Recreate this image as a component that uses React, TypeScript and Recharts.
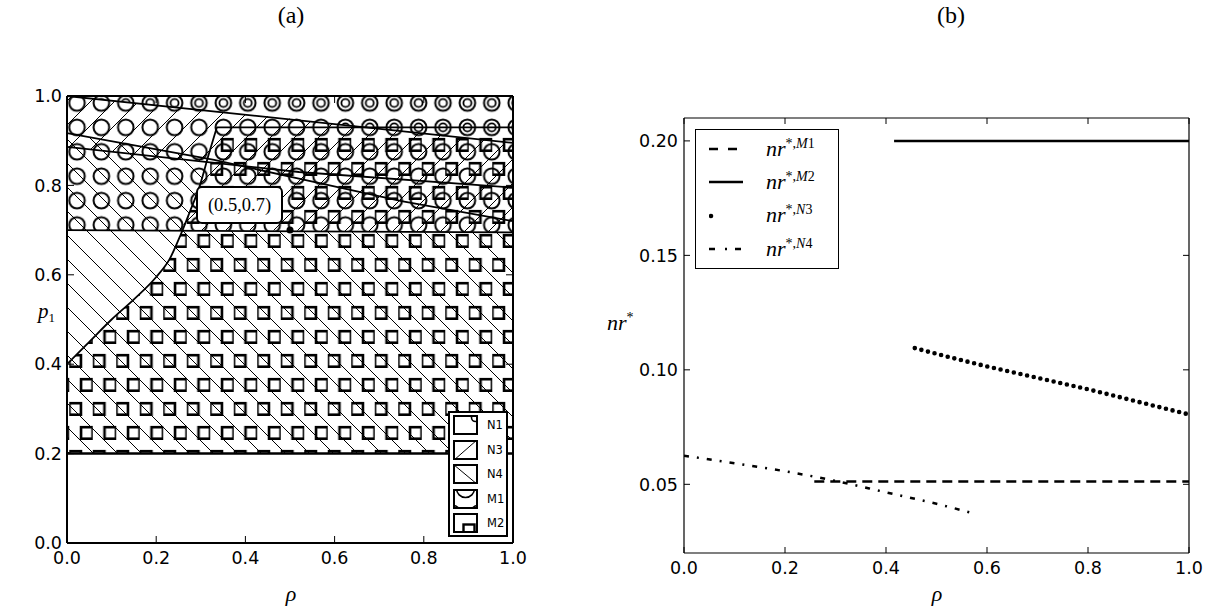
import React from "react";
import { Area, ComposedChart, Legend, Line, ReferenceDot, XAxis, YAxis } from "recharts";

// ---- shared ticks ----
const rhoTicks = [0, 0.2, 0.4, 0.6, 0.8, 1];
const p1Ticks = [0, 0.2, 0.4, 0.6, 0.8, 1];
const nrTicks = [0.05, 0.1, 0.15, 0.2];

// ---- panel (a): boundary curves (rho, p1) ----
const floorLine = [{ r: 0, p: 0.2 }, { r: 1, p: 0.2 }];
const midLine = [{ r: 0, p: 0.7 }, { r: 1, p: 0.695 }];
const curveC = [
  { r: 0, p: 0.4 }, { r: 0.05, p: 0.45 }, { r: 0.1, p: 0.5 }, { r: 0.15, p: 0.545 },
  { r: 0.2, p: 0.595 }, { r: 0.23, p: 0.635 }, { r: 0.255, p: 0.69 }, { r: 0.275, p: 0.74 },
  { r: 0.298, p: 0.8 }, { r: 0.318, p: 0.87 }, { r: 0.336, p: 0.93 },
];
const capLine = [{ r: 0.336, p: 0.93 }, { r: 1, p: 0.93 }];
const lineE = [{ r: 0, p: 1.0 }, { r: 1, p: 0.895 }];
const lineF = [{ r: 0, p: 0.917 }, { r: 0.33, p: 0.857 }, { r: 0.52, p: 0.815 }, { r: 0.75, p: 0.765 }, { r: 1, p: 0.72 }];
const lineG = [{ r: 0, p: 0.886 }, { r: 0.52, p: 0.83 }, { r: 1, p: 0.795 }];

// ---- panel (a): hatched regions, [lo, hi] in p1 ----
const n4Low = [{ r: 0, lo: 0.2, hi: 0.7 }, { r: 1, lo: 0.2, hi: 0.695 }];
const n4High = [
  { r: 0, lo: 0.7, hi: 0.917 }, { r: 0.255, lo: 0.7, hi: 0.87 }, { r: 0.275, lo: 0.74, hi: 0.866 },
  { r: 0.298, lo: 0.8, hi: 0.861 }, { r: 0.315, lo: 0.86, hi: 0.86 },
];
const n3Left = [{ r: 0, lo: 0.886, hi: 1.0 }, { r: 0.345, lo: 0.849, hi: 0.966 }];
const n3Right = [
  { r: 0.255, lo: 0.7, hi: 0.7 }, { r: 0.275, lo: 0.7, hi: 0.74 }, { r: 0.298, lo: 0.7, hi: 0.8 },
  { r: 0.318, lo: 0.7, hi: 0.87 }, { r: 0.336, lo: 0.7, hi: 0.93 }, { r: 0.345, lo: 0.7, hi: 0.966 },
  { r: 1, lo: 0.695, hi: 0.895 },
];
const m1Region = [{ r: 0, lo: 0.7, hi: 1 }, { r: 1, lo: 0.695, hi: 1 }];
const n1Region = [{ r: 0, lo: 1, hi: 1 }, { r: 1, lo: 0.895, hi: 1 }];
const m2Region = [
  { r: 0, lo: 0.2, hi: 0.4 }, { r: 0.05, lo: 0.2, hi: 0.45 }, { r: 0.1, lo: 0.2, hi: 0.5 },
  { r: 0.15, lo: 0.2, hi: 0.545 }, { r: 0.2, lo: 0.2, hi: 0.595 }, { r: 0.23, lo: 0.2, hi: 0.635 },
  { r: 0.255, lo: 0.2, hi: 0.69 }, { r: 0.275, lo: 0.2, hi: 0.74 }, { r: 0.298, lo: 0.2, hi: 0.8 },
  { r: 0.318, lo: 0.2, hi: 0.87 }, { r: 0.336, lo: 0.2, hi: 0.93 }, { r: 1, lo: 0.2, hi: 0.93 },
];
const markedPoint = { r: 0.5, p: 0.7, label: "(0.5,0.7)" };
const regionNames = ["N1", "N3", "N4", "M1", "M2"];

// ---- panel (b): nr* curves ----
const nrM1 = [{ r: 0.258, v: 0.0512 }, { r: 1, v: 0.0512 }];
const nrM2 = [{ r: 0.416, v: 0.2 }, { r: 1, v: 0.2 }];
const nrN3 = [
  { r: 0.457, v: 0.1095 }, { r: 0.5, v: 0.107 }, { r: 0.6, v: 0.1015 }, { r: 0.7, v: 0.0965 },
  { r: 0.8, v: 0.0915 }, { r: 0.9, v: 0.086 }, { r: 1, v: 0.0805 },
];
const nrN4 = [
  { r: 0, v: 0.0625 }, { r: 0.1, v: 0.0592 }, { r: 0.2, v: 0.0557 }, { r: 0.3, v: 0.0515 },
  { r: 0.4, v: 0.0465 }, { r: 0.5, v: 0.0415 }, { r: 0.58, v: 0.0369 },
];
const nrNames = ["M1", "M2", "N3", "N4"];

type Band = { r: number; lo: number; hi: number };
const band = (d: Band) => [d.lo, d.hi];
const fmt1 = (v: number) => v.toFixed(1);
const fmt2 = (v: number) => v.toFixed(2);
const blank = () => "";

const tickFont = { fill: "#000", fontSize: 17.5, fontFamily: "DejaVu Sans, sans-serif" };
const serif = "'Liberation Serif', 'DejaVu Serif', serif";

function Hatches() {
  return (
    <defs>
      <pattern id="hatchN3" patternUnits="userSpaceOnUse" width={24} height={24}>
        <path d="M0,24 L24,0 M-3,3 L3,-3 M21,27 L27,21" stroke="#000" strokeWidth={1} />
      </pattern>
      <pattern id="hatchN4" patternUnits="userSpaceOnUse" width={24} height={24}>
        <path d="M0,0 L24,24 M-3,21 L3,27 M21,-3 L27,3" stroke="#000" strokeWidth={1} />
      </pattern>
      <pattern id="hatchM1" patternUnits="userSpaceOnUse" x={-8.4} y={-6.8} width={24.4} height={24.4}>
        <circle cx={12.2} cy={12.2} r={7.8} fill="none" stroke="#000" strokeWidth={2} />
      </pattern>
      <pattern id="hatchN1" patternUnits="userSpaceOnUse" x={-8.4} y={-6.8} width={24.4} height={24.4}>
        <circle cx={12.2} cy={12.2} r={4} fill="none" stroke="#000" strokeWidth={1.8} />
      </pattern>
      <pattern id="hatchM2" patternUnits="userSpaceOnUse" x={-1.25} y={13} width={23.5} height={48}>
        <rect x={0.2} y={6.2} width={11.5} height={11.5} fill="none" stroke="#000" strokeWidth={2.6} />
        <rect x={11.8} y={30.2} width={11.5} height={11.5} fill="none" stroke="#000" strokeWidth={2.6} />
      </pattern>
    </defs>
  );
}

function MarkedPoint(props: any) {
  const { cx, cy } = props;
  return (
    <g>
      <rect x={cx - 93} y={cy - 43} width={85} height={36} rx={5} fill="#fff" stroke="#000" strokeWidth={2} />
      <text x={cx - 50.5} y={cy - 19} textAnchor="middle" fontFamily={serif} fontSize={18.5} fill="#000">
        {markedPoint.label}
      </text>
      <circle cx={cx} cy={cy} r={3.5} fill="#000" />
    </g>
  );
}

function RegionGlyph({ name }: { name: string }) {
  const s = { fill: "none", stroke: "#000", strokeWidth: 1.6 };
  if (name === "N1") return <circle cx={22} cy={2} r={4} {...s} />;
  if (name === "N3") return <path d="M0,20 L24,-1" {...s} strokeWidth={1} />;
  if (name === "N4") return <path d="M0,0 L24,20" {...s} strokeWidth={1} />;
  if (name === "M1")
    return (
      <g>
        <circle cx={12} cy={-1} r={9} {...s} />
        <circle cx={0} cy={22} r={6} {...s} />
        <circle cx={24} cy={22} r={6} {...s} />
      </g>
    );
  return <rect x={10} y={11} width={11} height={10} {...s} strokeWidth={2.4} />;
}

function LegendA() {
  return (
    <div style={{ width: 60, height: 126, border: "2px solid #000", background: "#fff", boxSizing: "border-box", position: "relative" }}>
      {regionNames.map((name, i) => (
        <div key={name} style={{ position: "absolute", left: 3, top: 2 + i * 24.5, height: 20, display: "flex", alignItems: "center" }}>
          <svg width={25} height={20} style={{ display: "block" }}>
            <svg x={0.5} y={0.5} width={24} height={19}>
              <RegionGlyph name={name} />
            </svg>
            <rect x={1} y={1} width={23} height={18} fill="none" stroke="#000" strokeWidth={2} />
          </svg>
          <span style={{ marginLeft: 9, fontSize: 11.5, fontFamily: "DejaVu Sans, sans-serif", color: "#000" }}>{name}</span>
        </div>
      ))}
    </div>
  );
}

function NrSample({ name }: { name: string }) {
  const base = { stroke: "#000", fill: "none" };
  if (name === "M1") return <line x1={0} x2={34} y1={6} y2={6} {...base} strokeWidth={2.5} strokeDasharray="9 10" />;
  if (name === "M2") return <line x1={0} x2={34} y1={6} y2={6} {...base} strokeWidth={2.5} />;
  if (name === "N3")
    return <line x1={2} x2={33} y1={6} y2={6} {...base} strokeWidth={4.6} strokeLinecap="round" strokeDasharray="0 31" />;
  return <line x1={0} x2={34} y1={6} y2={6} {...base} strokeWidth={2.5} strokeDasharray="6 10 2 8" />;
}

function LegendB() {
  return (
    <div style={{ width: 144, height: 140, border: "1.2px solid #000", background: "#fff", boxSizing: "border-box", position: "relative" }}>
      {nrNames.map((name, i) => (
        <div key={name} style={{ position: "absolute", left: 13, top: 6 + i * 33.3, height: 26, display: "flex", alignItems: "center" }}>
          <svg width={36} height={12} style={{ display: "block" }}>
            <NrSample name={name} />
          </svg>
          <span style={{ marginLeft: 21, fontFamily: serif, fontSize: 22, color: "#000", whiteSpace: "nowrap" }}>
            <i>nr</i>
            <sup style={{ fontSize: 14 }}>
              *,<i>{name[0]}</i>
              {name.slice(1)}
            </sup>
          </span>
        </div>
      ))}
    </div>
  );
}

const frameA = { stroke: "#000", strokeWidth: 2 };
const frameB = { stroke: "#000", strokeWidth: 1.2 };
const tickLn = { stroke: "#000", strokeWidth: 1 };

function PanelA() {
  return (
    <ComposedChart width={560} height={611} margin={{ top: 95, right: 46, bottom: 38, left: 17 }}>
      <Hatches />
      <XAxis type="number" dataKey="r" domain={[0, 1]} ticks={rhoTicks} tickFormatter={fmt1} height={30}
        tickSize={-7} tickMargin={16} axisLine={frameA} tickLine={tickLn} tick={tickFont} allowDataOverflow />
      <XAxis xAxisId="top" orientation="top" type="number" dataKey="r" domain={[0, 1]} ticks={rhoTicks}
        tickFormatter={blank} height={1} tickSize={-7} axisLine={frameA} tickLine={tickLn} allowDataOverflow />
      <YAxis type="number" domain={[0, 1]} ticks={p1Ticks} tickFormatter={fmt1} width={50}
        tickSize={-7} tickMargin={12} axisLine={frameA} tickLine={tickLn} tick={tickFont} allowDataOverflow />
      <YAxis yAxisId="right" orientation="right" type="number" domain={[0, 1]} ticks={p1Ticks}
        tickFormatter={blank} width={1} tickSize={-7} axisLine={frameA} tickLine={tickLn} allowDataOverflow />

      <Area data={n4Low} dataKey={band} type="linear" stroke="none" fill="url(#hatchN4)" fillOpacity={1} dot={false} activeDot={false} isAnimationActive={false} />
      <Area data={n4High} dataKey={band} type="linear" stroke="none" fill="url(#hatchN4)" fillOpacity={1} dot={false} activeDot={false} isAnimationActive={false} />
      <Area data={n3Left} dataKey={band} type="linear" stroke="none" fill="url(#hatchN3)" fillOpacity={1} dot={false} activeDot={false} isAnimationActive={false} />
      <Area data={n3Right} dataKey={band} type="linear" stroke="none" fill="url(#hatchN3)" fillOpacity={1} dot={false} activeDot={false} isAnimationActive={false} />
      <Area data={m1Region} dataKey={band} type="linear" stroke="none" fill="url(#hatchM1)" fillOpacity={1} dot={false} activeDot={false} isAnimationActive={false} />
      <Area data={n1Region} dataKey={band} type="linear" stroke="none" fill="url(#hatchN1)" fillOpacity={1} dot={false} activeDot={false} isAnimationActive={false} />
      <Area data={m2Region} dataKey={band} type="linear" stroke="none" fill="url(#hatchM2)" fillOpacity={1} dot={false} activeDot={false} isAnimationActive={false} />

      <Line data={floorLine} dataKey="p" type="linear" stroke="#000" strokeWidth={2.5} dot={false} activeDot={false} isAnimationActive={false} />
      <Line data={midLine} dataKey="p" type="linear" stroke="#000" strokeWidth={1.8} dot={false} activeDot={false} isAnimationActive={false} />
      <Line data={curveC} dataKey="p" type="monotone" stroke="#000" strokeWidth={1.8} dot={false} activeDot={false} isAnimationActive={false} />
      <Line data={capLine} dataKey="p" type="linear" stroke="#000" strokeWidth={1.8} dot={false} activeDot={false} isAnimationActive={false} />
      <Line data={lineE} dataKey="p" type="linear" stroke="#000" strokeWidth={1.8} dot={false} activeDot={false} isAnimationActive={false} />
      <Line data={lineF} dataKey="p" type="linear" stroke="#000" strokeWidth={1.8} dot={false} activeDot={false} isAnimationActive={false} />
      <Line data={lineG} dataKey="p" type="linear" stroke="#000" strokeWidth={1.8} dot={false} activeDot={false} isAnimationActive={false} />

      <ReferenceDot x={markedPoint.r} y={markedPoint.p} r={3.5} shape={MarkedPoint} />
      <Legend layout="vertical" align="center" verticalAlign="middle" content={() => <LegendA />}
        wrapperStyle={{ left: 448, top: 411, width: 60, height: 126 }} />
    </ComposedChart>
  );
}

function PanelB() {
  return (
    <ComposedChart width={640} height={611} margin={{ top: 117, right: 30, bottom: 28, left: 44 }}>
      <XAxis type="number" dataKey="r" domain={[0, 1]} ticks={rhoTicks} tickFormatter={fmt1} height={30}
        tickSize={-6} tickMargin={15} axisLine={frameB} tickLine={tickLn} tick={tickFont} allowDataOverflow />
      <XAxis xAxisId="top" orientation="top" type="number" dataKey="r" domain={[0, 1]} ticks={rhoTicks}
        tickFormatter={blank} height={1} tickSize={-6} axisLine={frameB} tickLine={tickLn} allowDataOverflow />
      <YAxis type="number" domain={[0.02, 0.21]} ticks={nrTicks} tickFormatter={fmt2} width={60}
        tickSize={-6} tickMargin={12} axisLine={frameB} tickLine={tickLn} tick={tickFont} allowDataOverflow />
      <YAxis yAxisId="right" orientation="right" type="number" domain={[0.02, 0.21]} ticks={nrTicks}
        tickFormatter={blank} width={1} tickSize={-6} axisLine={frameB} tickLine={tickLn} allowDataOverflow />

      <Line data={nrM2} dataKey="v" name="M2" type="linear" stroke="#000" strokeWidth={2.5} dot={false} activeDot={false} isAnimationActive={false} />
      <Line data={nrM1} dataKey="v" name="M1" type="linear" stroke="#000" strokeWidth={2.5} strokeDasharray="10 6" dot={false} activeDot={false} isAnimationActive={false} />
      <Line data={nrN3} dataKey="v" name="N3" type="monotone" stroke="#000" strokeWidth={4.6} strokeLinecap="round" strokeDasharray="0 6.8" dot={false} activeDot={false} isAnimationActive={false} />
      <Line data={nrN4} dataKey="v" name="N4" type="monotone" stroke="#000" strokeWidth={2.5} strokeDasharray="5 8 2 8" dot={false} activeDot={false} isAnimationActive={false} />

      <Legend layout="vertical" align="center" verticalAlign="middle" content={() => <LegendB />}
        wrapperStyle={{ left: 115, top: 129, width: 144, height: 140 }} />
    </ComposedChart>
  );
}

const abs = (left: number, top: number, extra: React.CSSProperties = {}): React.CSSProperties => ({
  position: "absolute", left, top, fontFamily: serif, color: "#000", lineHeight: 1, whiteSpace: "nowrap", ...extra,
});

export default function App() {
  return (
    <div style={{ position: "absolute", left: 0, top: 0, width: 1220, height: 611, background: "#fff", overflow: "hidden" }}>
      <div style={{ position: "absolute", left: 0, top: 0 }}>
        <PanelA />
      </div>
      <div style={{ position: "absolute", left: 580, top: 0 }}>
        <PanelB />
      </div>
      <div style={abs(291, 3, { fontSize: 24, transform: "translateX(-50%)" })}>(a)</div>
      <div style={abs(951, 3, { fontSize: 24, transform: "translateX(-50%)" })}>(b)</div>
      <div style={abs(38, 301, { fontSize: 21 })}>
        <i>p</i>
        <span style={{ fontSize: 13, position: "relative", top: 4 }}>1</span>
      </div>
      <div style={abs(291, 583, { fontSize: 22, transform: "translateX(-50%)" })}>
        <i>ρ</i>
      </div>
      <div style={abs(607, 311, { fontSize: 22 })}>
        <i>nr</i>
        <sup style={{ fontSize: 14 }}>*</sup>
      </div>
      <div style={abs(937, 583, { fontSize: 22, transform: "translateX(-50%)" })}>
        <i>ρ</i>
      </div>
    </div>
  );
}
